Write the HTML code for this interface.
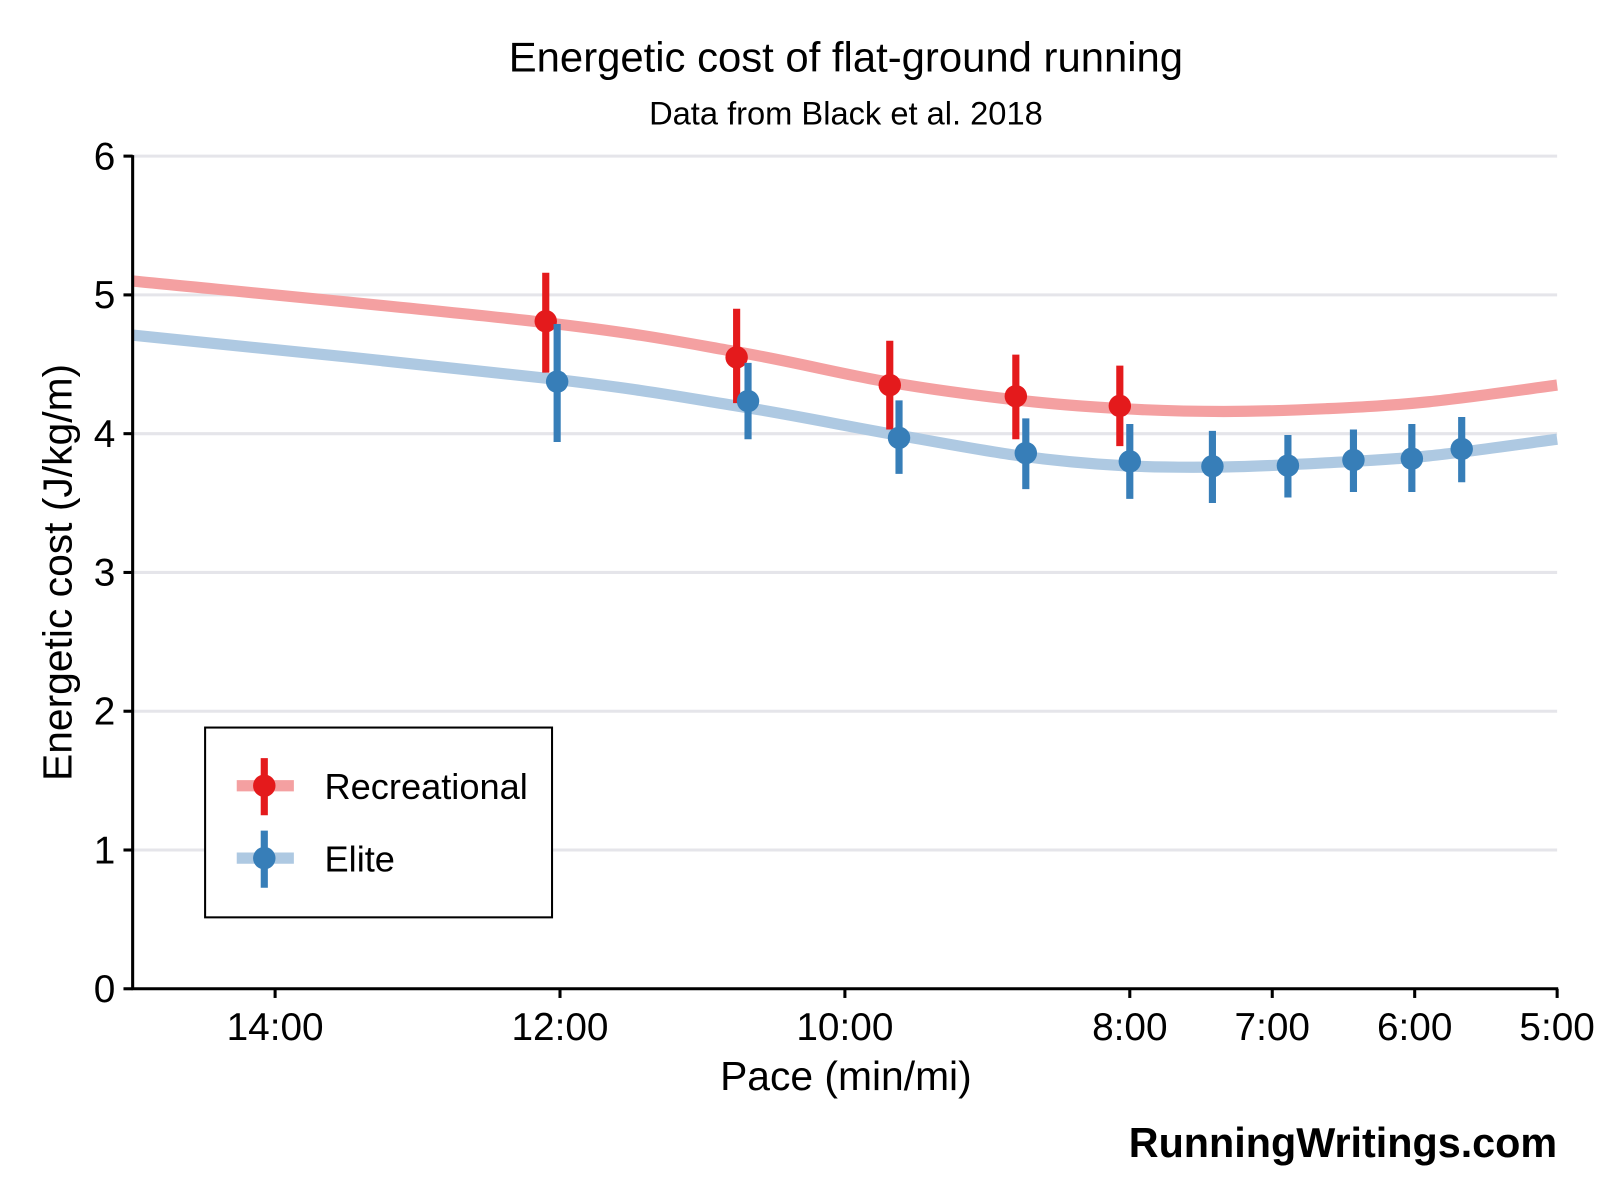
<!DOCTYPE html>
<html><head><meta charset="utf-8"><style>
html,body{margin:0;padding:0;background:#fff;width:1600px;height:1200px;overflow:hidden}
svg text{font-family:"Liberation Sans",Arial,sans-serif}
</style></head><body>
<svg id="chart" width="1600" height="1200" viewBox="0 0 1568 1176" xmlns="http://www.w3.org/2000/svg">
<text x="829" y="70" font-size="41" text-anchor="middle">Energetic cost of flat-ground running</text>
<text x="829" y="122" font-size="32" text-anchor="middle">Data from Black et al. 2018</text>
<g id="grid"></g>
<g id="curves"></g>
<g id="points"></g>
<g id="axes"></g>
<text x="70" y="561" font-size="40" text-anchor="middle" transform="rotate(-90 70 561)">Energetic cost (J/kg/m)</text>
<text x="829" y="1068" font-size="40" text-anchor="middle">Pace (min/mi)</text>
<text x="1526" y="1134" font-size="40.5" font-weight="bold" text-anchor="end">RunningWritings.com</text>
<g>
<rect x="201" y="713" width="340" height="186" fill="#fff" stroke="#000" stroke-width="2"/>
<g>
<line x1="232" y1="770" x2="288" y2="770" stroke="#f4a0a1" stroke-width="11"/>
<line x1="259" y1="743" x2="259" y2="799" stroke="#e41a1c" stroke-width="7"/>
<circle cx="259" cy="770" r="11" fill="#e41a1c"/>
<text x="318" y="783" font-size="35.5">Recreational</text></g>
<g>
<line x1="232" y1="841" x2="288" y2="841" stroke="#aec9e2" stroke-width="11"/>
<line x1="259" y1="814" x2="259" y2="870" stroke="#377eb8" stroke-width="7"/>
<circle cx="259" cy="841" r="11" fill="#377eb8"/>
<text x="318" y="854" font-size="35.5">Elite</text></g>
</g>
</svg>
<script>
const yTicks=[0,1,2,3,4,5,6];
const xTickPaces=[14,12,10,8,7,6,5];
const xTickLabels=["14:00","12:00","10:00","8:00","7:00","6:00","5:00"];
const recPace=[12.10,10.76,9.685,8.80,8.07];
const recVal=[4.81,4.55,4.35,4.27,4.20];
const recHi=[5.16,4.90,4.67,4.57,4.49];
const recLo=[4.44,4.22,4.03,3.96,3.91];
const elPace=[12.02,10.68,9.62,8.73,8.00,7.42,6.89,6.43,6.02,5.67];
const elVal=[4.375,4.235,3.97,3.86,3.80,3.765,3.77,3.81,3.82,3.89];
const elHi=[4.79,4.51,4.24,4.11,4.07,4.02,3.99,4.03,4.07,4.12];
const elLo=[3.94,3.96,3.71,3.60,3.53,3.50,3.54,3.58,3.58,3.65];
const curvePace=[15,12.10,10.76,9.685,8.77,8.05,7.34,6.62,5.90,5.0];
const recCurve=[5.10,4.80,4.59,4.37,4.24,4.18,4.16,4.18,4.23,4.35];
const elCurve=[4.71,4.40,4.20,4.00,3.84,3.77,3.76,3.79,3.84,3.96];

const NS="http://www.w3.org/2000/svg";
const X=p=>130+(15-p)*139.6;
const Y=v=>969-v*136;
function mk(parent,tag,attrs){const e=document.createElementNS(NS,tag);for(const k in attrs)e.setAttribute(k,attrs[k]);parent.appendChild(e);return e;}
const grid=document.getElementById('grid'),axes=document.getElementById('axes'),curves=document.getElementById('curves'),pts=document.getElementById('points');
yTicks.forEach(v=>{
  if(v>0){const g=mk(grid,'line',{x1:130,x2:1526,y1:Y(v),y2:Y(v),stroke:'#e5e5ea','stroke-width':3});
  
  }
  const t=mk(axes,'line',{x1:121,x2:130,y1:Y(v),y2:Y(v),stroke:'#000','stroke-width':3});
  
  
  const l=mk(axes,'text',{x:113,y:Y(v)+13,'font-size':38,'text-anchor':'end'});l.textContent=v;
  
  
});
xTickPaces.forEach((p,i)=>{
  const t=mk(axes,'line',{x1:X(p),x2:X(p),y1:969,y2:978,stroke:'#000','stroke-width':3});
  
  
  const l=mk(axes,'text',{x:X(p),y:1019,'font-size':38,'text-anchor':'middle'});l.textContent=xTickLabels[i];
  
  
});
const ya=mk(axes,'line',{x1:130,x2:130,y1:152,y2:970,stroke:'#000','stroke-width':3});


const xa=mk(axes,'line',{x1:129,x2:1527,y1:969,y2:969,stroke:'#000','stroke-width':3});


function smooth(ps){let d=`M${ps[0][0]},${ps[0][1]}`;for(let i=0;i<ps.length-1;i++){const p0=ps[i-1]||ps[i],p1=ps[i],p2=ps[i+1],p3=ps[i+2]||p2;
 d+=` C${p1[0]+(p2[0]-p0[0])/6},${p1[1]+(p2[1]-p0[1])/6} ${p2[0]-(p3[0]-p1[0])/6},${p2[1]-(p3[1]-p1[1])/6} ${p2[0]},${p2[1]}`;}return d;}
function curve(vals,col,name){const c=mk(curves,'path',{d:smooth(curvePace.map((p,i)=>[X(p),Y(vals[i])])),fill:'none',stroke:col,'stroke-width':11});
 
 }
curve(recCurve,'#f4a0a1','recreational-fit-curve');
curve(elCurve,'#aec9e2','elite-fit-curve');
function series(P,V,H,L,col,name){P.forEach((p,i)=>{
 const g=mk(pts,'g',{});
 
 
 mk(g,'line',{x1:X(p),x2:X(p),y1:Y(H[i]),y2:Y(L[i]),stroke:col,'stroke-width':7});
 mk(g,'circle',{cx:X(p),cy:Y(V[i]),r:11,fill:col});});}
series(recPace,recVal,recHi,recLo,'#e41a1c','recreational-point');
series(elPace,elVal,elHi,elLo,'#377eb8','elite-point');
</script>
</body></html>
